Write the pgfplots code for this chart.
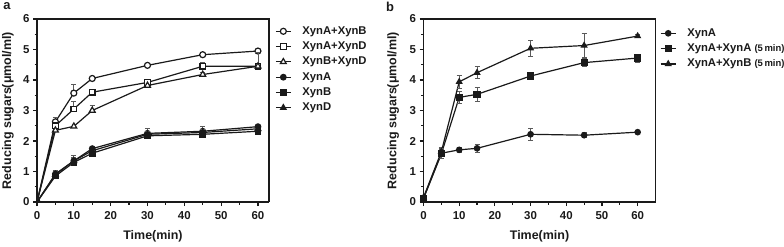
\documentclass[border=0pt]{standalone}
\usepackage{fontspec}
\setmainfont{Liberation Sans}
\usepackage{pgfplots}
\pgfplotsset{compat=1.18}
\definecolor{ink}{HTML}{1A1A1A}
\definecolor{errc}{HTML}{5A5A5A}

\pgfplotstableread{
t v e
0 0 0
5 2.63 0.15
10 3.57 0.30
15 4.05 0.0
30 4.48 0.0
45 4.83 0.0
60 4.95 0.0
}\aAB
\pgfplotstableread{
t v e
0 0 0
5 2.50 0.10
10 3.05 0.25
15 3.60 0.0
30 3.92 0.0
45 4.45 0.12
60 4.45 0.45
}\aAD
\pgfplotstableread{
t v e
0 0 0
5 2.35 0.0
10 2.48 0.0
15 3.00 0.17
30 3.82 0.0
45 4.18 0.07
60 4.45 0.0
}\aBD
\pgfplotstableread{
t v e
0 0 0
5 0.92 0.12
10 1.35 0.17
15 1.75 0.0
30 2.25 0.17
45 2.32 0.17
60 2.47 0.0
}\aA
\pgfplotstableread{
t v e
0 0 0
5 0.85 0.0
10 1.30 0.10
15 1.60 0.0
30 2.17 0.0
45 2.22 0.0
60 2.32 0.0
}\aB
\pgfplotstableread{
t v e
0 0 0
5 0.90 0.0
10 1.35 0.10
15 1.68 0.0
30 2.22 0.10
45 2.28 0.10
60 2.40 0.0
}\aD
\pgfplotstableread{
t v e
0 0.12 0.05
5 1.60 0.18
10 1.71 0.08
15 1.76 0.12
30 2.22 0.20
45 2.19 0.08
60 2.29 0.05
}\bA
\pgfplotstableread{
t v e
0 0.12 0.05
5 1.58 0.15
10 3.43 0.20
15 3.53 0.23
30 4.13 0.06
45 4.57 0.13
60 4.72 0.13
}\bAA
\pgfplotstableread{
t v e
0 0.15 0.05
5 1.65 0.12
10 3.94 0.20
15 4.24 0.20
30 5.04 0.25
45 5.13 0.40
60 5.44 0.05
}\bAB

\begin{document}
\begin{tikzpicture}[x=1bp,y=1bp]
\useasboundingbox (0,0) rectangle (784,246);
\pgfplotsset{
 panel/.style={
  scale only axis, width=232bp, height=183bp,
  xmin=0, ymin=0, ymax=6,
  axis x line*=bottom, axis y line*=left,
  axis line style={ink, line width=1.4bp, -},
  xtick={0,10,...,60}, minor xtick={5,15,...,55},
  ytick={0,...,6}, minor ytick={0.5,1.5,...,5.5},
  tick align=outside,
  major tick length=4bp, minor tick length=2.5bp,
  every tick/.style={ink, line width=1.2bp},
  tick label style={font=\fontsize{11.5}{13}\selectfont\bfseries, text=ink},
  xticklabel style={yshift=-2bp},
  /pgf/number format/assume math mode=true,
  xlabel={Time(min)}, ylabel={Reducing sugars(μmol/ml)},
  every axis x label/.style={at={(axis description cs:0.5,-0.186)}, anchor=center,
     font=\fontsize{12.5}{14}\selectfont\bfseries, text=ink},
  legend style={draw=none, fill=none, font=\fontsize{11.3}{12}\selectfont\bfseries,
     inner sep=0pt, row sep=4.3bp, text=ink,
     nodes={inner sep=0pt, text height=8.5bp, text depth=2.5bp}},
  legend cell align=left,
  /tikz/every odd column/.append style={column sep=11bp},
  legend image code/.code={\draw[#1, mark repeat=2, mark phase=2] plot coordinates {(0bp,0bp) (7.5bp,0bp) (15bp,0bp)};},
  error bars/error bar style={errc, line width=0.8bp},
  error bars/error mark options={rotate=90, mark size=2.5bp, errc, line width=0.8bp},
 },
 ln/.style={ink, line width=1.2bp, mark options={solid, line width=1bp, draw=ink}},
}
% Panel a
\begin{axis}[panel, name=pa, at={(37bp,44bp)}, anchor=south west, xmax=63,
  every axis y label/.style={at={(axis description cs:-0.125,0.5)}, rotate=90, anchor=center,
     font=\fontsize{12.5}{14}\selectfont\bfseries, text=ink},
  clip marker paths=true,
  legend style={at={(axis description cs:1.026,0.964)}, anchor=north west}]
\addplot[ln, mark=*, mark size=3bp, mark options={fill=white}, error bars/.cd, y dir=plus, y explicit] table[x=t,y=v,y error=e]{\aAB};
\addlegendentry{XynA+XynB}
\addplot[ln, mark=square*, mark size=2.8bp, mark options={fill=white}, error bars/.cd, y dir=plus, y explicit] table[x=t,y=v,y error=e]{\aAD};
\addlegendentry{XynA+XynD}
\addplot[ln, mark=triangle*, mark size=3.4bp, mark options={fill=white}, error bars/.cd, y dir=plus, y explicit] table[x=t,y=v,y error=e]{\aBD};
\addlegendentry{XynB+XynD}
\addplot[ln, mark=*, mark size=2.8bp, mark options={fill=ink}, error bars/.cd, y dir=plus, y explicit] table[x=t,y=v,y error=e]{\aA};
\addlegendentry{XynA}
\addplot[ln, mark=square*, mark size=2.7bp, mark options={fill=ink}, error bars/.cd, y dir=plus, y explicit] table[x=t,y=v,y error=e]{\aB};
\addlegendentry{XynB}
\addplot[ln, mark=triangle*, mark size=3.2bp, mark options={fill=ink}, error bars/.cd, y dir=plus, y explicit] table[x=t,y=v,y error=e]{\aD};
\addlegendentry{XynD}
\end{axis}
\draw[ink, line width=1.4bp] (pa.north west) -- (pa.north east) -- (pa.south east);
% Panel b
\begin{axis}[panel, name=pb, at={(423.5bp,44bp)}, anchor=south west, xmax=65,
  every axis y label/.style={at={(axis description cs:-0.131,0.5)}, rotate=90, anchor=center,
     font=\fontsize{12.5}{14}\selectfont\bfseries, text=ink},
  legend style={at={(axis description cs:1.019,0.953)}, anchor=north west}]
\addplot[ln, mark=*, mark size=2.7bp, mark options={fill=ink}, error bars/.cd, y dir=both, y explicit] table[x=t,y=v,y error=e]{\bA};
\addlegendentry{XynA}
\addplot[ln, mark=square*, mark size=3bp, mark options={fill=ink}, error bars/.cd, y dir=both, y explicit] table[x=t,y=v,y error=e]{\bAA};
\addlegendentry{XynA+XynA {\fontsize{9.5}{11}\selectfont(5\,min)}}
\addplot[ln, mark=triangle*, mark size=3bp, mark options={fill=ink}, error bars/.cd, y dir=both, y explicit] table[x=t,y=v,y error=e]{\bAB};
\addlegendentry{XynA+XynB {\fontsize{9.5}{11}\selectfont(5\,min)}}
\end{axis}
\draw[ink, line width=1.4bp] (pb.north west) -- (pb.north east) -- (pb.south east);
\node[font=\fontsize{13}{15}\selectfont\bfseries, text=ink] at (7,240) {a};
\node[font=\fontsize{13}{15}\selectfont\bfseries, text=ink] at (390,239) {b};
\end{tikzpicture}
\end{document}
